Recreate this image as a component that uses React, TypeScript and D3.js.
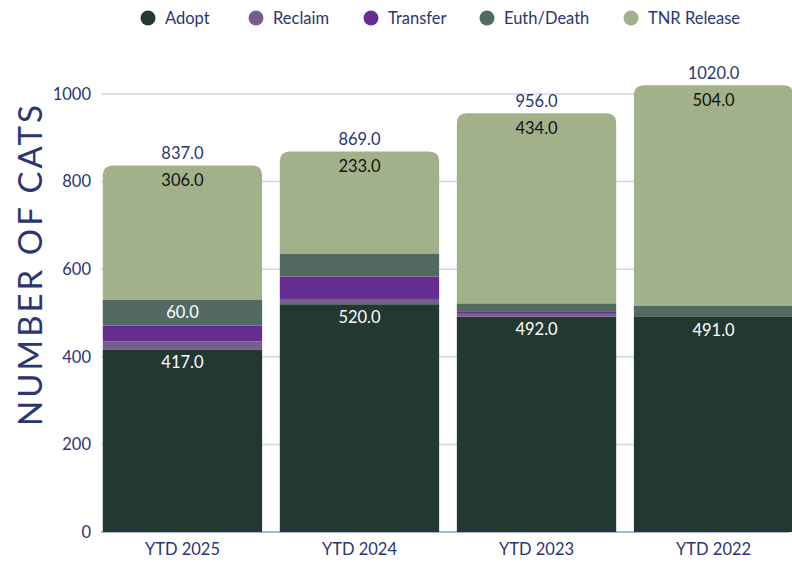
import React from "react";
import * as d3 from "d3";

const categories = ["YTD 2025", "YTD 2024", "YTD 2023", "YTD 2022"];
const seriesNames = ["Adopt", "Reclaim", "Transfer", "Euth/Death", "TNR Release"];
const adopt = [417, 520, 492, 491];
const reclaim = [18, 12, 8, 0];
const transfer = [36, 51, 4, 0];
const euth = [60, 53, 18, 25];
const tnr = [306, 233, 434, 504];
const colors = ["#223831", "#765f8b", "#672e91", "#526a62", "#a3b18a"];
const yTicks = [0, 200, 400, 600, 800, 1000];

const W = 792;
const H = 562;
const NAVY = "#2b3572";
const FONT = "Lato, 'Open Sans', sans-serif";
const FS = 16.5;

export default function App() {
  const rows = categories.map((c, i) => ({
    cat: c,
    Adopt: adopt[i],
    Reclaim: reclaim[i],
    Transfer: transfer[i],
    "Euth/Death": euth[i],
    "TNR Release": tnr[i],
  }));
  const stack = d3.stack<any>().keys(seriesNames);
  const layers = stack(rows);

  const x = d3.scaleBand<string>().domain(categories).range([101, 795]).paddingInner(0.1).paddingOuter(0.01);
  const y = d3.scaleLinear().domain([0, 1000]).range([532, 94]);
  const bw = x.bandwidth();
  const r = 10;

  const totals = categories.map((_, i) => adopt[i] + reclaim[i] + transfer[i] + euth[i] + tnr[i]);

  const legendX = [148, 256, 371, 487, 631];

  return (
    <svg width={W} height={H} style={{ position: "absolute", left: 0, top: 0, fontFamily: FONT }}>
      <rect width={W} height={H} fill="#fff" />
      {yTicks.map((t) => (
        <line key={t} x1={101} x2={790} y1={y(t)} y2={y(t)} stroke={t === 0 ? "#5c6aa3" : "#d3d7e6"} strokeWidth={t === 0 ? 1 : 1.5} />
      ))}
      {yTicks.map((t) => (
        <text key={t} x={91} y={y(t)} dy="0.35em" textAnchor="end" fontSize={FS} fill={NAVY}>
          {t}
        </text>
      ))}
      <text
        transform={`translate(42, 264) rotate(-90)`}
        textAnchor="middle"
        fontSize={33}
        letterSpacing={3}
        fill={NAVY}
      >
        NUMBER OF CATS
      </text>
      {layers.map((layer, li) =>
        layer.map((d, i) => {
          const x0 = x(categories[i])!;
          const y0 = y(d[0]);
          const y1 = y(d[1]);
          const h = y0 - y1;
          if (h <= 0) return null;
          if (li === layers.length - 1) {
            const p = `M${x0},${y0} L${x0},${y1 + r} Q${x0},${y1} ${x0 + r},${y1} L${x0 + bw - r},${y1} Q${x0 + bw},${y1} ${x0 + bw},${y1 + r} L${x0 + bw},${y0} Z`;
            return <path key={`${li}-${i}`} d={p} fill={colors[li]} />;
          }
          return <rect key={`${li}-${i}`} x={x0} y={y1} width={bw} height={h} fill={colors[li]} />;
        })
      )}
      {categories.map((c, i) => {
        const cx = x(c)! + bw / 2;
        const top = layers[4][i][1];
        const adoptTop = layers[0][i][1];
        const e = layers[3][i];
        return (
          <g key={c} fontSize={FS} textAnchor="middle">
            <text x={cx} y={y(totals[i]) - 12} dy="0.35em" fill={NAVY}>
              {totals[i].toFixed(1)}
            </text>
            <text x={cx} y={y(top) + 15} dy="0.35em" fill="#111">
              {tnr[i].toFixed(1)}
            </text>
            <text x={cx} y={y(adoptTop) + 13} dy="0.35em" fill="#fff">
              {adopt[i].toFixed(1)}
            </text>
            {euth[i] * 0.438 > 25 && (
              <text x={cx} y={(y(e[0]) + y(e[1])) / 2} dy="0.35em" fill="#fff">
                {euth[i].toFixed(1)}
              </text>
            )}
          </g>
        );
      })}
      {categories.map((c) => (
        <text key={c} x={x(c)! + bw / 2} y={549} dy="0.35em" textAnchor="middle" fontSize={FS} fill={NAVY}>
          {c}
        </text>
      ))}
      {seriesNames.map((s, i) => (
        <g key={s}>
          <circle cx={legendX[i]} cy={18} r={7.5} fill={colors[i]} />
          <text x={legendX[i] + 17} y={18} dy="0.35em" fontSize={FS} fill={NAVY}>
            {s}
          </text>
        </g>
      ))}
    </svg>
  );
}
